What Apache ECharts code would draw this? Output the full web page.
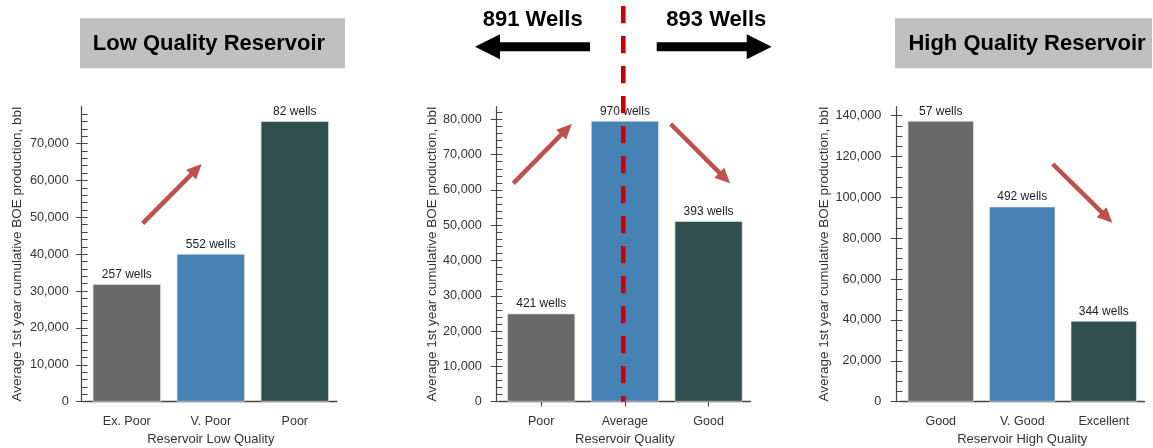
<!DOCTYPE html>
<html>
<head>
<meta charset="utf-8">
<title>Average 1st year cumulative BOE production by reservoir quality</title>
<script src="https://cdn.jsdelivr.net/npm/echarts@6/dist/echarts.min.js"></script>
<style>
  html, body { margin: 0; padding: 0; background: #fff; }
  #chart { width: 1153px; height: 448px; }
</style>
</head>
<body>
<div id="chart"></div>
<script>
// ---- data ----
const lowCategories = ['Ex. Poor', 'V. Poor', 'Poor'];
const lowValues = [31900, 40100, 76100];
const lowWells = [257, 552, 82];

const midCategories = ['Poor', 'Average', 'Good'];
const midValues = [25000, 79600, 51200];
const midWells = [421, 970, 393];

const highCategories = ['Good', 'V. Good', 'Excellent'];
const highValues = [137500, 95500, 39600];
const highWells = [57, 492, 344];

// labelled ticks on each value axis
const lowTicks = [0, 10000, 20000, 30000, 40000, 50000, 60000, 70000];
const midTicks = [0, 10000, 20000, 30000, 40000, 50000, 60000, 70000, 80000];
const highTicks = [0, 20000, 40000, 60000, 80000, 100000, 120000, 140000];

const barColors = ['#696969', '#4682b4', '#2f4f4f'];
const FONT = '"Liberation Sans", Arial, Helvetica, sans-serif';
const AXIS_COLOR = '#444';
const TEXT_COLOR = '#333';
const Y_NAME = 'Average 1st year cumulative BOE production, bbl';

function steps(from, to, step) {
  const out = [];
  for (let v = from; v <= to; v += step) out.push(v);
  return out;
}

// panel layout: grid box plus y-axis offset (axis sits slightly left of the bars)
const panels = [
  { cats: lowCategories, vals: lowValues, wells: lowWells, ticks: lowTicks,
    minor: steps(0, 78000, 2000), max: 80000, xName: 'Reservoir Low Quality',
    left: 84.8, width: 252, offset: 3.1, nameGap: 57, labelMargin: 13, xTicks: false },
  { cats: midCategories, vals: midValues, wells: midWells, ticks: midTicks,
    minor: steps(0, 82000, 2000), max: 83600, xName: 'Reservoir Quality',
    left: 499.4, width: 251, offset: 3.1, nameGap: 57.5, labelMargin: 14.5, xTicks: true },
  { cats: highCategories, vals: highValues, wells: highWells, ticks: highTicks,
    minor: steps(0, 140000, 5000), max: 144400, xName: 'Reservoir High Quality',
    left: 900, width: 244.5, offset: 3.7, nameGap: 63, labelMargin: 15, xTicks: false }
];

const grids = [], xAxes = [], yAxes = [], series = [];
panels.forEach((p, i) => {
  grids.push({ left: p.left, width: p.width, top: 106.7, height: 295, outerBoundsMode: 'none' });
  xAxes.push({
    type: 'category', gridIndex: i, data: p.cats,
    name: p.xName, nameLocation: 'middle', nameGap: 30,
    nameTextStyle: { fontFamily: FONT, fontSize: 13, color: TEXT_COLOR },
    axisLine: { lineStyle: { color: AXIS_COLOR, width: 1.3 } },
    axisTick: { show: p.xTicks, alignWithLabel: true, length: 5, lineStyle: { color: AXIS_COLOR } },
    axisLabel: { fontFamily: FONT, fontSize: 12.5, color: TEXT_COLOR, margin: 13 }
  });
  // labelled axis with outward major ticks
  yAxes.push({
    type: 'value', gridIndex: i, position: 'left', offset: p.offset,
    min: 0, max: p.max,
    name: Y_NAME, nameLocation: 'middle', nameGap: p.nameGap, nameRotate: 90,
    nameTextStyle: { fontFamily: FONT, fontSize: 13.5, color: TEXT_COLOR },
    axisLine: { show: true, lineStyle: { color: AXIS_COLOR, width: 1.2 } },
    axisTick: { show: true, length: 5.5, customValues: p.ticks, lineStyle: { color: AXIS_COLOR } },
    axisLabel: {
      fontFamily: FONT, fontSize: 12.7, color: TEXT_COLOR, margin: p.labelMargin,
      customValues: p.ticks,
      formatter: v => Number(v).toLocaleString('en-US')
    },
    splitLine: { show: false }
  });
  // companion axis carrying the inward minor ticks
  yAxes.push({
    type: 'value', gridIndex: i, position: 'left', offset: p.offset,
    min: 0, max: p.max,
    axisLine: { show: false },
    axisTick: { show: true, inside: true, length: 6, customValues: p.minor, lineStyle: { color: AXIS_COLOR } },
    axisLabel: { show: false },
    splitLine: { show: false }
  });
  series.push({
    type: 'bar', xAxisIndex: i, yAxisIndex: i * 2,
    data: p.vals.map((v, k) => ({ value: v, itemStyle: { color: barColors[k] } })),
    barWidth: '81.3%',
    itemStyle: { borderColor: 'rgba(220,225,230,0.9)', borderWidth: 0.8 },
    label: {
      show: true, position: 'top', distance: 3.5,
      fontFamily: FONT, fontSize: 12, color: '#222',
      formatter: params => p.wells[params.dataIndex] + ' wells'
    },
    emphasis: { disabled: true },
    animation: false
  });
});

// arrow outline from tail (x1,y1) to tip (x2,y2)
function arrowPoints(x1, y1, x2, y2, shaft, headLen, headWid) {
  const dx = x2 - x1, dy = y2 - y1, L = Math.hypot(dx, dy);
  const ux = dx / L, uy = dy / L, px = -uy, py = ux;
  const bx = x2 - ux * headLen, by = y2 - uy * headLen;
  const s = shaft / 2, h = headWid / 2;
  return [
    [x1 + px * s, y1 + py * s], [bx + px * s, by + py * s], [bx + px * h, by + py * h],
    [x2, y2],
    [bx - px * h, by - py * h], [bx - px * s, by - py * s], [x1 - px * s, y1 - py * s]
  ];
}
function arrow(x1, y1, x2, y2, shaft, headLen, headWid, color) {
  return { type: 'polygon', z: 50, silent: true,
    shape: { points: arrowPoints(x1, y1, x2, y2, shaft, headLen, headWid) },
    style: { fill: color } };
}

const TREND = '#c0504d';
const graphics = [
  // panel title boxes
  { type: 'rect', z: 40, shape: { x: 80, y: 18.3, width: 265, height: 50 }, style: { fill: '#c0c0c0' } },
  { type: 'text', z: 41, x: 209, y: 43.5,
    style: { text: 'Low Quality Reservoir', font: 'bold 22px ' + FONT, fill: '#000', align: 'center', verticalAlign: 'middle' } },
  { type: 'rect', z: 40, shape: { x: 895, y: 18.3, width: 257, height: 50 }, style: { fill: '#c0c0c0' } },
  { type: 'text', z: 41, x: 1027, y: 43.5,
    style: { text: 'High Quality Reservoir', font: 'bold 22px ' + FONT, fill: '#000', align: 'center', verticalAlign: 'middle' } },
  // well split counts with direction arrows
  { type: 'text', z: 41, x: 532.7, y: 20,
    style: { text: '891 Wells', font: 'bold 22px ' + FONT, fill: '#000', align: 'center', verticalAlign: 'middle' } },
  { type: 'text', z: 41, x: 716.3, y: 20,
    style: { text: '893 Wells', font: 'bold 22px ' + FONT, fill: '#000', align: 'center', verticalAlign: 'middle' } },
  arrow(590, 46.7, 475, 46.7, 9, 25, 25, '#000'),
  arrow(656.7, 46.7, 771.7, 46.7, 9, 25, 25, '#000'),
  // trend arrows
  arrow(142.7, 223.3, 201.7, 164, 4.5, 15, 14, TREND),
  arrow(513.3, 183.3, 571.7, 124, 4.5, 15, 14, TREND),
  arrow(670.7, 124, 730, 183.3, 4.5, 15, 14, TREND),
  arrow(1052.7, 164, 1112.3, 222.7, 4.5, 15, 14, TREND),
  // dividing line through the average group
  { type: 'line', z: 60, silent: true,
    shape: { x1: 623.3, y1: 6, x2: 623.3, y2: 401.7 },
    style: { stroke: '#cc0000', lineWidth: 4.6, lineDash: [17.3, 12.7] } }
];

const chart = echarts.init(document.getElementById('chart'), null, { renderer: 'canvas' });
chart.setOption({
  backgroundColor: '#fff',
  animation: false,
  textStyle: { fontFamily: FONT },
  grid: grids,
  xAxis: xAxes,
  yAxis: yAxes,
  series: series,
  graphic: graphics
});
</script>
</body>
</html>
